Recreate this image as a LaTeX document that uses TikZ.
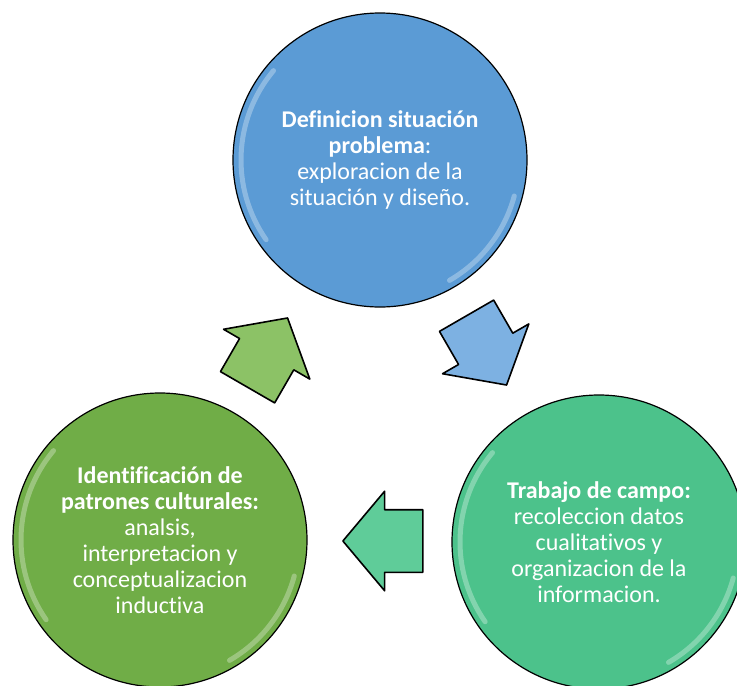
\documentclass[tikz,border=0pt]{standalone}
\usepackage{fontspec}
\setmainfont{Carlito}[Ligatures=NoCommon]
\usetikzlibrary{shapes.arrows}
\definecolor{stageblue}{HTML}{5B9BD5}
\definecolor{stageteal}{HTML}{4CC28B}
\definecolor{stagegreen}{HTML}{70AD47}
\definecolor{turnblue}{HTML}{7DB1E2}
\definecolor{turnteal}{HTML}{5FCC99}
\definecolor{turngreen}{HTML}{8CC266}

\begin{document}
\begin{tikzpicture}[x=1pt, y=1pt,
  stage/.style={draw=black, line width=1.2pt, circle, minimum size=294pt, inner sep=0pt,
    text=white, align=center, font=\fontsize{24}{26}\selectfont},
  turn/.style={draw=black, line width=1.6pt, line join=round, single arrow, single arrow head extend=18.5pt,
    single arrow tip angle=100, minimum height=80pt, inner xsep=0pt, inner ysep=30.5pt},
  gloss/.style={white, opacity=0.3, line width=5pt, line cap=round}]
\clip (0,0) rectangle (737,-686);

% circles
\node (situacion) [stage, fill=stageblue] at (380,-160) {\textbf{Definicion situación}\\\textbf{problema}:\\exploracion de la\\situación y diseño.};
\node (campo) [stage, fill=stageteal] at (599,-542) {\textbf{Trabajo de campo:}\\recoleccion datos\\cualitativos y\\organizacion de la\\informacion.};
\node (patrones) [stage, fill=stagegreen] at (160,-540) {\textbf{Identificación de}\\\textbf{patrones culturales:}\\analsis,\\interpretacion y\\conceptualizacion\\inductiva};

% rim highlights
\foreach \c in {situacion, campo, patrones} {
  \draw [gloss] ([shift={(140:139pt)}]\c.center) arc[start angle=140, end angle=215, radius=139pt];
  \draw [gloss] ([shift={(-15:139pt)}]\c.center) arc[start angle=-15, end angle=-60, radius=139pt];
}

% arrows between the stages
\node (haciacampo) [turn, fill=turnblue, rotate=-60] at (480,-339) {};
\node (haciapatrones) [turn, fill=turnteal, rotate=180] at (396,-541) {};
\node (haciasituacion) [turn, fill=turngreen, rotate=60] at (261,-364) {};
\end{tikzpicture}
\end{document}
